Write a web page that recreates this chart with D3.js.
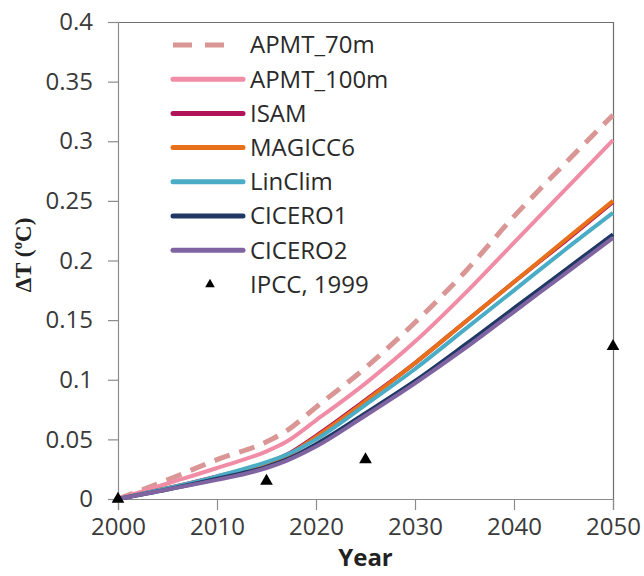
<!DOCTYPE html>
<html>
<head>
<meta charset="utf-8">
<script src="https://cdn.jsdelivr.net/npm/d3@7"></script>
<style>
  body { margin: 0; background: #fff; }
  text { font-family: "Open Sans", sans-serif; }
</style>
</head>
<body>
<div id="chart"></div>
<script>
// data
const years = [2000, 2005, 2010, 2015, 2017, 2020, 2025, 2030, 2035, 2040, 2045, 2050];

const apmt70   = [0, 0.016, 0.033, 0.048, 0.057, 0.077, 0.110, 0.148, 0.190, 0.237, 0.280, 0.322];
const apmt100  = [0, 0.013, 0.026, 0.040, 0.048, 0.066, 0.097, 0.132, 0.172, 0.215, 0.258, 0.301];
const isam     = [0, 0.009, 0.019, 0.030, 0.037, 0.053, 0.083, 0.114, 0.148, 0.182, 0.215, 0.249];
const magicc6  = [0, 0.009, 0.018, 0.029, 0.036, 0.052, 0.082, 0.114, 0.148, 0.182, 0.216, 0.250];
const linclim  = [0, 0.009, 0.019, 0.031, 0.037, 0.050, 0.079, 0.109, 0.142, 0.175, 0.208, 0.240];
const cicero1  = [0, 0.008, 0.017, 0.027, 0.033, 0.046, 0.072, 0.099, 0.129, 0.160, 0.191, 0.222];
const cicero2  = [0, 0.008, 0.016, 0.026, 0.032, 0.044, 0.070, 0.097, 0.126, 0.157, 0.188, 0.219];

const ipccYears  = [2000, 2015, 2025, 2050];
const ipccValues = [0, 0.015, 0.033, 0.128];

const seriesNames = ["APMT_70m", "APMT_100m", "ISAM", "MAGICC6", "LinClim", "CICERO1", "CICERO2"];
const seriesValues = [apmt70, apmt100, isam, magicc6, linclim, cicero1, cicero2];
const seriesColors = ["#d99694", "#f08ca6", "#b0135a", "#e8701a", "#4bacc6", "#1f3864", "#8064a2"];

const yTicks = [0, 0.05, 0.1, 0.15, 0.2, 0.25, 0.3, 0.35, 0.4];
const xTicks = [2000, 2010, 2020, 2030, 2040, 2050];

const margin = {top: 22, right: 31, bottom: 77, left: 118},
  width = 644 - margin.left - margin.right,
  height = 576 - margin.top - margin.bottom;

const svg = d3.select("#chart")
  .append("svg")
  .attr("width", 644)
  .attr("height", 576)
    .append("g")
    .attr("transform", `translate(${margin.left}, ${margin.top})`);

const x = d3.scaleLinear().domain([2000, 2050]).range([0, width]);
const y = d3.scaleLinear().domain([0, 0.4]).range([height, 0]);

// frame: top and right border of the plot area
svg.append("line")
  .attr("x1", 0).attr("x2", width).attr("y1", 0.5).attr("y2", 0.5)
  .style("stroke", "#6e6e6e").style("stroke-width", 1.2);
svg.append("line")
  .attr("x1", width + 0.5).attr("x2", width + 0.5).attr("y1", 0).attr("y2", height)
  .style("stroke", "#6e6e6e").style("stroke-width", 1.2);

// axes
const yAxis = svg.append("g")
  .call(d3.axisLeft(y).tickValues(yTicks).tickSize(10).tickPadding(15)
    .tickFormat(d => d3.format("")(+d.toFixed(2))));
const xAxis = svg.append("g")
  .attr("transform", `translate(0, ${height})`)
  .call(d3.axisBottom(x).tickValues(xTicks).tickSize(11).tickPadding(8).tickFormat(d3.format("d")));

[yAxis, xAxis].forEach(a => {
  a.select(".domain").style("stroke", "#8c8c8c").style("stroke-width", 1.2);
  a.selectAll(".tick line").style("stroke", "#8c8c8c").style("stroke-width", 1.2);
  a.selectAll("text")
    .style("font-family", "'Open Sans', sans-serif")
    .style("font-size", "24px")
    .style("fill", "#3a3a3a");
});

// lines
const line = d3.line()
  .x((d, i) => x(years[i]))
  .y(d => y(d))
  .curve(d3.curveMonotoneX);

svg.append("g")
  .selectAll("path")
  .data(seriesValues)
  .join("path")
  .attr("d", d => line(d))
  .style("fill", "none")
  .style("stroke", (d, i) => seriesColors[i])
  .style("stroke-width", (d, i) => i === 0 ? 5 : 4)
  .style("stroke-dasharray", (d, i) => i === 0 ? "16,10" : null)
  .style("stroke-linecap", "butt");

// IPCC points
const tri = d3.symbol().type(d3.symbolTriangle).size(70);
svg.append("g")
  .selectAll("path")
  .data(ipccValues)
  .join("path")
  .attr("d", tri)
  .attr("transform", (d, i) => `translate(${x(ipccYears[i])}, ${y(d)})`)
  .style("fill", "#000");

// legend
const legend = svg.append("g").attr("transform", "translate(55, 23)");
const rowH = 34.2;
seriesNames.forEach((name, i) => {
  const row = legend.append("g").attr("transform", `translate(0, ${i * rowH})`);
  row.append("line")
    .attr("x1", 0).attr("x2", i === 0 ? 52 : 70).attr("y1", 0).attr("y2", 0)
    .style("stroke", seriesColors[i])
    .style("stroke-width", 5)
    .style("stroke-linecap", i === 0 ? "butt" : "round")
    .style("stroke-dasharray", i === 0 ? "19,13" : null);
  row.append("text")
    .attr("x", 77).attr("y", 0).attr("dy", "0.35em")
    .style("font-size", "24px").style("fill", "#2a2a2a")
    .text(name);
});
const ipccRow = legend.append("g").attr("transform", `translate(0, ${7 * rowH})`);
ipccRow.append("path")
  .attr("d", d3.symbol().type(d3.symbolTriangle).size(40))
  .attr("transform", "translate(37, 0)")
  .style("fill", "#000");
ipccRow.append("text")
  .attr("x", 77).attr("y", 0).attr("dy", "0.35em")
  .style("font-size", "24px").style("fill", "#2a2a2a")
  .text("IPCC, 1999");

// axis titles
svg.append("text")
  .attr("transform", `translate(${23 - margin.left + 8}, 233) rotate(-90)`)
  .attr("text-anchor", "middle")
  .style("font-family", "'Liberation Serif', 'Times New Roman', serif")
  .style("font-size", "23px")
  .style("font-weight", "bold")
  .style("fill", "#222")
  .text("ΔT (ºC)");

svg.append("text")
  .attr("x", x(2025))
  .attr("y", 544)
  .attr("text-anchor", "middle")
  .style("font-size", "24px")
  .style("font-weight", "bold")
  .style("fill", "#222")
  .text("Year");
</script>
</body>
</html>
